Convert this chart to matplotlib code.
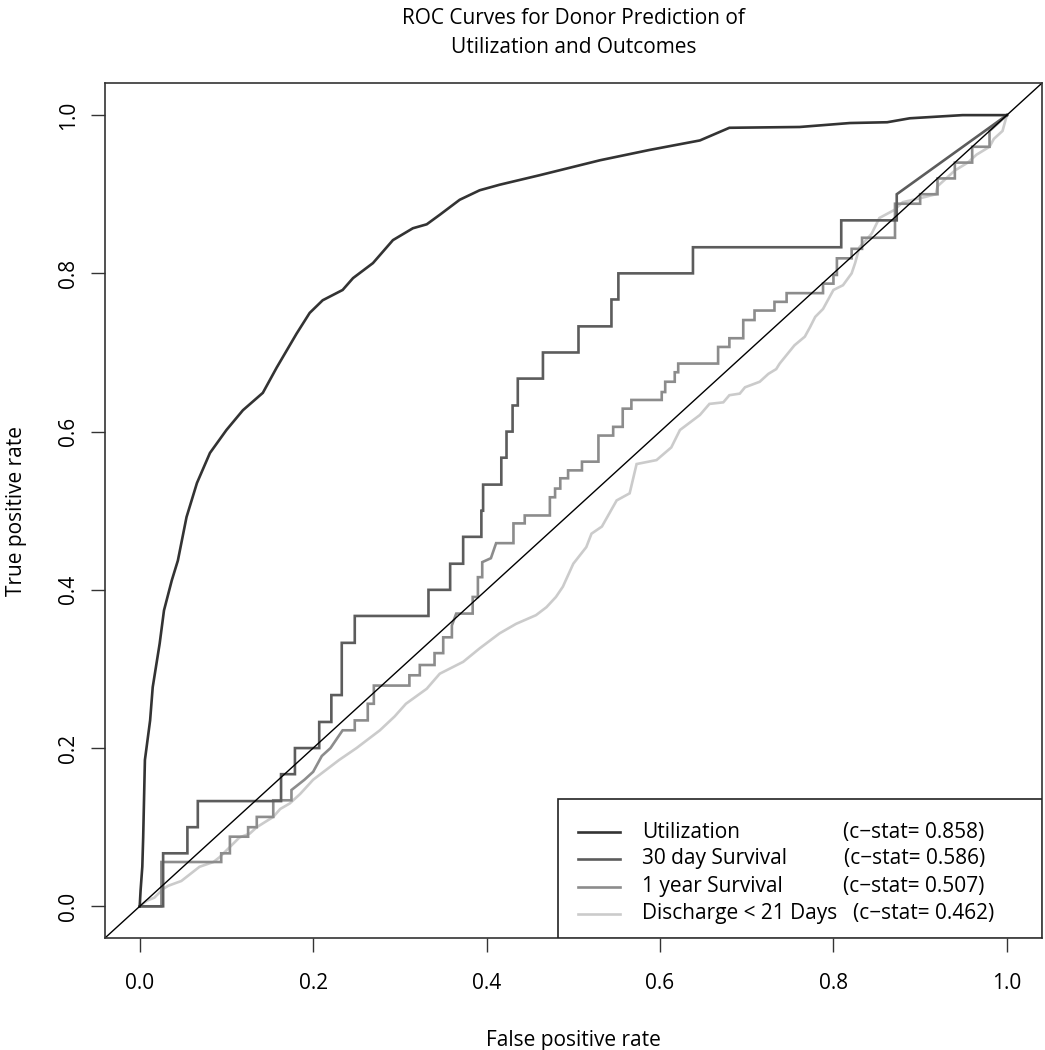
import matplotlib
matplotlib.use("Agg")
import matplotlib.pyplot as plt
from matplotlib.patches import Rectangle

plt.rcParams['font.family'] = ['Open Sans', 'DejaVu Sans']

# ROC vertices (false positive rate, true positive rate)
util_fpr = [0, 0.001, 0.003, 0.004, 0.006, 0.012, 0.015, 0.023, 0.028, 0.037, 0.044, 0.054,
            0.066, 0.081, 0.1, 0.119, 0.142, 0.158, 0.181, 0.196, 0.211, 0.234, 0.246,
            0.269, 0.292, 0.315, 0.331, 0.346, 0.369, 0.392, 0.415, 0.461, 0.531, 0.588,
            0.646, 0.68, 0.761, 0.819, 0.862, 0.888, 0.949, 1.0]
util_tpr = [0, 0.02, 0.05, 0.087, 0.185, 0.235, 0.277, 0.332, 0.374, 0.412, 0.437, 0.492,
            0.535, 0.573, 0.602, 0.627, 0.649, 0.681, 0.724, 0.75, 0.766, 0.779, 0.794,
            0.813, 0.842, 0.857, 0.862, 0.874, 0.893, 0.905, 0.912, 0.924, 0.943, 0.956,
            0.968, 0.984, 0.985, 0.99, 0.991, 0.996, 1.0, 1.0]

surv30_fpr = [0, 0.027, 0.027, 0.055, 0.055, 0.067, 0.067, 0.163, 0.163, 0.179, 0.179, 0.207,
              0.207, 0.221, 0.221, 0.233, 0.233, 0.248, 0.248, 0.333, 0.333, 0.358, 0.358,
              0.373, 0.373, 0.394, 0.394, 0.396, 0.396, 0.417, 0.417, 0.423, 0.423, 0.43,
              0.43, 0.436, 0.436, 0.465, 0.465, 0.506, 0.506, 0.544, 0.544, 0.552, 0.552,
              0.638, 0.638, 0.809, 0.809, 0.873, 0.873, 1.0]
surv30_tpr = [0, 0, 0.067, 0.067, 0.1, 0.1, 0.133, 0.133, 0.167, 0.167, 0.2, 0.2,
              0.233, 0.233, 0.267, 0.267, 0.333, 0.333, 0.367, 0.367, 0.4, 0.4, 0.433,
              0.433, 0.467, 0.467, 0.5, 0.5, 0.533, 0.533, 0.567, 0.567, 0.6, 0.6,
              0.633, 0.633, 0.667, 0.667, 0.7, 0.7, 0.733, 0.733, 0.767, 0.767, 0.8,
              0.8, 0.833, 0.833, 0.867, 0.867, 0.9, 1.0]

surv1y_fpr = [0, 0.025, 0.025, 0.094, 0.094, 0.104, 0.104, 0.125, 0.125, 0.135, 0.135, 0.154,
              0.154, 0.175, 0.175, 0.19, 0.2, 0.21, 0.22, 0.234, 0.248, 0.248, 0.263, 0.263,
              0.27, 0.27, 0.311, 0.311, 0.323, 0.323, 0.34, 0.34, 0.35, 0.35, 0.36, 0.36,
              0.365, 0.384, 0.384, 0.39, 0.39, 0.395, 0.395, 0.405, 0.411, 0.431, 0.431,
              0.444, 0.444, 0.473, 0.473, 0.479, 0.479, 0.485, 0.485, 0.494, 0.494, 0.51,
              0.51, 0.529, 0.529, 0.546, 0.546, 0.557, 0.557, 0.567, 0.567, 0.602, 0.602,
              0.606, 0.606, 0.617, 0.617, 0.621, 0.621, 0.667, 0.667, 0.68, 0.68, 0.696,
              0.696, 0.709, 0.709, 0.732, 0.732, 0.746, 0.746, 0.788, 0.788, 0.8, 0.8,
              0.804, 0.804, 0.821, 0.821, 0.833, 0.833, 0.871, 0.871, 0.9, 0.9, 0.92, 0.92,
              0.94, 0.94, 0.96, 0.96, 0.98, 0.98, 1.0]
surv1y_tpr = [0, 0, 0.056, 0.056, 0.067, 0.067, 0.088, 0.088, 0.1, 0.1, 0.113, 0.113,
              0.134, 0.134, 0.147, 0.16, 0.17, 0.19, 0.2, 0.2225, 0.2225, 0.235, 0.235, 0.256,
              0.256, 0.279, 0.279, 0.292, 0.292, 0.305, 0.305, 0.32, 0.32, 0.34, 0.34, 0.355,
              0.37, 0.37, 0.391, 0.391, 0.416, 0.416, 0.435, 0.44, 0.459, 0.459, 0.484,
              0.484, 0.494, 0.494, 0.517, 0.517, 0.528, 0.528, 0.541, 0.541, 0.551, 0.551,
              0.562, 0.562, 0.595, 0.595, 0.606, 0.606, 0.629, 0.629, 0.64, 0.64, 0.65,
              0.65, 0.663, 0.663, 0.675, 0.675, 0.686, 0.686, 0.707, 0.707, 0.718, 0.718,
              0.741, 0.741, 0.753, 0.753, 0.764, 0.764, 0.775, 0.775, 0.787, 0.787, 0.798,
              0.798, 0.819, 0.819, 0.831, 0.831, 0.845, 0.845, 0.888, 0.888, 0.9, 0.9, 0.92,
              0.92, 0.94, 0.94, 0.96, 0.96, 0.98, 1.0]

disch_fpr = [0, 0.008, 0.017, 0.027, 0.033, 0.048, 0.069, 0.085, 0.092, 0.104, 0.115, 0.127,
             0.135, 0.154, 0.162, 0.173, 0.185, 0.2, 0.23, 0.25, 0.277, 0.294, 0.307, 0.331,
             0.346, 0.373, 0.392, 0.415, 0.434, 0.457, 0.469, 0.48, 0.488, 0.5, 0.515, 0.521,
             0.533, 0.55, 0.565, 0.573, 0.596, 0.613, 0.623, 0.646, 0.657, 0.673, 0.68,
             0.692, 0.698, 0.715, 0.725, 0.734, 0.738, 0.755, 0.767, 0.773, 0.779, 0.788,
             0.8, 0.811, 0.821, 0.825, 0.83, 0.844, 0.853, 0.87, 0.88, 0.9, 0.918, 0.92,
             0.93, 0.94, 0.955, 0.965, 0.98, 0.985, 0.995, 1.0]
disch_tpr = [0, 0.007, 0.011, 0.022, 0.026, 0.032, 0.05, 0.056, 0.062, 0.075, 0.087, 0.092,
             0.1, 0.113, 0.123, 0.13, 0.142, 0.16, 0.185, 0.2, 0.2225, 0.24, 0.256, 0.275,
             0.294, 0.309, 0.326, 0.345, 0.357, 0.368, 0.378, 0.391, 0.404, 0.433, 0.454,
             0.471, 0.48, 0.513, 0.522, 0.559, 0.564, 0.58, 0.602, 0.621, 0.635, 0.637,
             0.646, 0.648, 0.656, 0.663, 0.673, 0.679, 0.686, 0.709, 0.72, 0.732, 0.745,
             0.755, 0.779, 0.785, 0.8, 0.813, 0.833, 0.85, 0.87, 0.88, 0.89, 0.895, 0.9,
             0.91, 0.92, 0.93, 0.94, 0.95, 0.96, 0.97, 0.98, 1.0]

names = ["Utilization", "30 day Survival", "1 year Survival", "Discharge < 21 Days"]
cstats = [0.858, 0.586, 0.507, 0.462]
colors = ["#333333", "#5c5c5c", "#8c8c8c", "#cbcbcb"]

FS = 15

fig = plt.figure(figsize=(10.45, 10.5), dpi=100)
ax = fig.add_axes([0.1005, 0.1067, 0.8962, 0.8138])

curves = [(util_fpr, util_tpr), (surv30_fpr, surv30_tpr),
          (surv1y_fpr, surv1y_tpr), (disch_fpr, disch_tpr)]
# draw lightest first so darker curves sit on top
for (fx, ty), col in reversed(list(zip(curves, colors))):
    ax.plot(fx, ty, color=col, lw=1.9, solid_joinstyle='miter')

ax.axline((0, 0), slope=1, color='black', lw=1.0)

ax.set_xlim(-0.04, 1.04)
ax.set_ylim(-0.04, 1.04)
ticks = [0.0, 0.2, 0.4, 0.6, 0.8, 1.0]
ax.set_xticks(ticks)
ax.set_yticks(ticks)
ax.set_xticklabels([f"{t:.1f}" for t in ticks])
ax.set_yticklabels([f"{t:.1f}" for t in ticks], rotation=90, va='center')
ax.tick_params(axis='both', length=10, width=1.0, color='#333333',
               labelsize=FS, direction='out')
ax.tick_params(axis='x', pad=15)
ax.tick_params(axis='y', pad=9)
for s in ax.spines.values():
    s.set_color('#333333')
    s.set_linewidth(1.2)

ax.set_xlabel("False positive rate", fontsize=FS, labelpad=26)
ax.set_ylabel("True positive rate", fontsize=FS, labelpad=22)
ax.set_title("ROC Curves for Donor Prediction of\nUtilization and Outcomes",
             fontsize=FS, pad=22, linespacing=1.5)

# legend box in the bottom right corner, like R's legend("bottomright")
lx0, ly1 = 0.4835, 0.1626
ax.add_patch(Rectangle((lx0, 0), 1 - lx0, ly1, transform=ax.transAxes,
                       facecolor='white', edgecolor='#222222', lw=1.2, zorder=5))
row_y = [0.124, 0.0925, 0.06, 0.0285]
stat_x = [0.7875, 0.7895, 0.7885, 0.7985]
for i in range(4):
    ax.plot([0.505, 0.55], [row_y[i]] * 2, transform=ax.transAxes,
            color=colors[i], lw=1.9, zorder=6)
    ax.text(0.573, row_y[i], names[i], transform=ax.transAxes, fontsize=FS,
            va='center', ha='left', zorder=6)
    ax.text(stat_x[i], row_y[i], f"(c\u2212stat= {cstats[i]:.3f})",
            transform=ax.transAxes, fontsize=FS, va='center', ha='left', zorder=6)

fig.savefig("out.png", dpi=100)
